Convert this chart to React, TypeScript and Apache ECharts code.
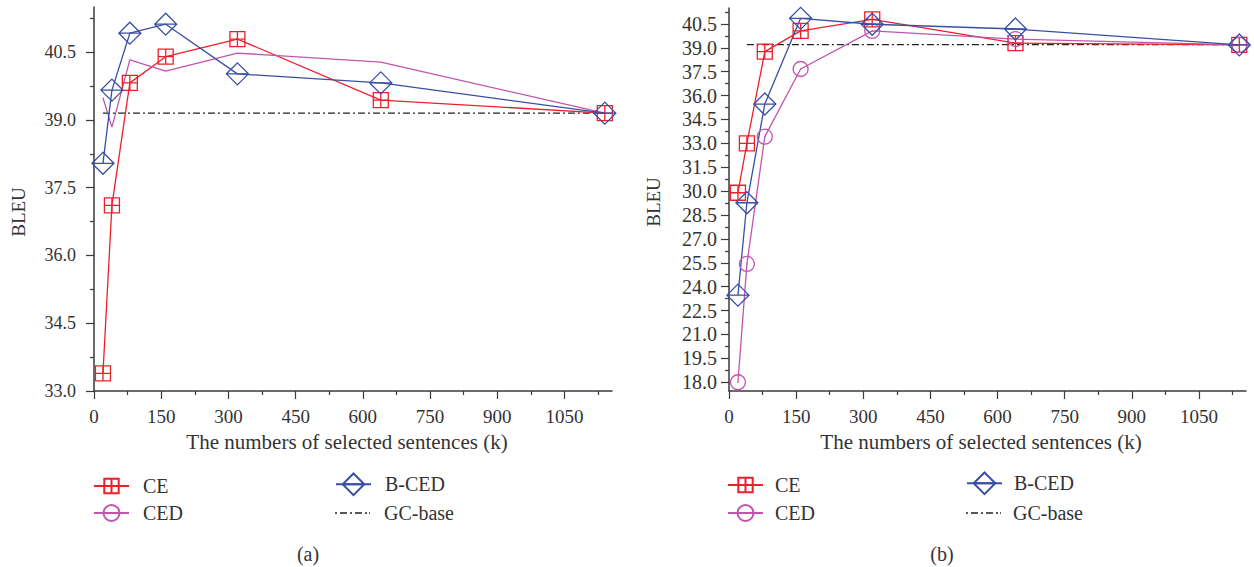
import React, { useEffect, useRef } from "react";
import * as echarts from "echarts";

// ---- data ----
const sentencesK = [20, 40, 80, 160, 320, 640, 1140];

const ceA = [33.39, 37.11, 39.82, 40.4, 40.79, 39.44, 39.15];
const cedA = [39.49, 38.84, 40.33, 40.08, 40.48, 40.28, 39.15];
const bcedA = [38.04, 39.66, 40.92, 41.12, 40.02, 39.82, 39.15];
const gcBaseXA = [20, 1140];
const gcBaseA = [39.15, 39.15];

const ceB = [29.9, 33.0, 38.76, 40.06, 40.79, 39.3, 39.18];
const cedB = [18.0, 25.43, 33.42, 37.67, 40.06, 39.55, 39.18];
const bcedB = [23.47, 29.27, 35.47, 40.85, 40.48, 40.18, 39.18];
const gcBaseXB = [40, 1140];
const gcBaseB = [39.2, 39.2];

const xTicks = [0, 150, 300, 450, 600, 750, 900, 1050];
const xMinorTicks = [75, 225, 375, 525, 675, 825, 975, 1125];
const yTicksA = [33.0, 34.5, 36.0, 37.5, 39.0, 40.5];
const yMinorTicksA = [33.75, 35.25, 36.75, 38.25, 39.75, 41.25];
const yTicksB = [18.0, 19.5, 21.0, 22.5, 24.0, 25.5, 27.0, 28.5, 30.0, 31.5, 33.0, 34.5, 36.0, 37.5, 39.0, 40.5];
const yMinorTicksB = [18.75, 20.25, 21.75, 23.25, 24.75, 26.25, 27.75, 29.25, 30.75, 32.25, 33.75, 35.25, 36.75, 38.25, 39.75, 41.25];

const xTitle = "The numbers of selected sentences (k)";
const yTitle = "BLEU";

// ---- styles ----
const FONT = "'Liberation Serif', 'DejaVu Serif', serif";
const AX = "#3a3a3a";
const TXT = "#333333";
const RED = "#ee1f2a";
const BLUE = "#3a4fa3";
const PURPLE = "#c254ae";
const BLACK = "#222222";

const SQ = "path://M0,0L10,0L10,10L0,10Z M5,0L5,10 M0,5L10,5";
const DIA = "path://M5,0L10,5L5,10L0,5Z M0,5L10,5";
const CIR = "path://M10,5A5,5,0,1,1,0,5A5,5,0,1,1,10,5Z M5,4.6L5,5.4";
const DASHDOT = "path://M0,0H2V1.3H0Z M5,0H12V1.3H5Z M15,0H17V1.3H15Z M20,0H27V1.3H20Z M30,0H32V1.3H30Z M34,0H35V1.3H34Z";

const pairs = (xs: number[], ys: number[]) => xs.map((x, i) => [x, ys[i]]);

function xAxes(grid: number, max: number, labelPad: number[]) {
  return [
    {
      type: "value",
      gridIndex: grid,
      min: 0,
      max,
      position: "bottom",
      axisLine: { show: true, onZero: false, lineStyle: { color: AX, width: 1.5 } },
      axisTick: { show: true, length: 8, customValues: xTicks, lineStyle: { color: AX, width: 1.2 } },
      axisLabel: {
        customValues: xTicks,
        margin: 16,
        fontSize: 19,
        color: TXT,
        fontFamily: FONT,
        formatter: (v: number) => String(v),
      },
      splitLine: { show: false },
      name: xTitle,
      nameLocation: "middle",
      nameGap: 40,
      nameTextStyle: { fontSize: 21, color: TXT, fontFamily: FONT, padding: labelPad },
    },
    {
      type: "value",
      gridIndex: grid,
      min: 0,
      max,
      position: "bottom",
      axisLine: { show: false, onZero: false },
      axisTick: { show: true, length: 4, customValues: xMinorTicks, lineStyle: { color: AX, width: 1.2 } },
      axisLabel: { show: false },
      splitLine: { show: false },
    },
  ];
}

function yAxes(
  grid: number,
  min: number,
  max: number,
  ticks: number[],
  minor: number[],
  fontSize: number,
  margin: number,
  namePad: number[]
) {
  return [
    {
      type: "value",
      gridIndex: grid,
      min,
      max,
      position: "left",
      axisLine: { show: true, onZero: false, lineStyle: { color: AX, width: 1.5 } },
      axisTick: { show: true, length: 8, customValues: ticks, lineStyle: { color: AX, width: 1.2 } },
      axisLabel: {
        customValues: ticks,
        margin,
        fontSize,
        color: TXT,
        fontFamily: FONT,
        formatter: (v: number) => v.toFixed(1),
      },
      splitLine: { show: false },
      name: yTitle,
      nameLocation: "middle",
      nameGap: 66,
      nameTextStyle: { fontSize: 19, color: TXT, fontFamily: FONT, padding: namePad },
    },
    {
      type: "value",
      gridIndex: grid,
      min,
      max,
      position: "left",
      axisLine: { show: false, onZero: false },
      axisTick: { show: true, length: 4, customValues: minor, lineStyle: { color: AX, width: 1.2 } },
      axisLabel: { show: false },
      splitLine: { show: false },
    },
  ];
}

function lineSeries(
  name: string,
  axis: number,
  data: number[][],
  color: string,
  symbol: string,
  size: number,
  showSymbol = true
) {
  return {
    name,
    type: "line",
    xAxisIndex: axis,
    yAxisIndex: axis,
    data,
    symbol,
    symbolSize: size,
    showSymbol,
    itemStyle: { color: "rgba(0,0,0,0)", borderColor: color, borderWidth: 1.3 },
    lineStyle: { color, width: 1.3 },
    emphasis: { disabled: true },
  };
}

function gcSeries(axis: number, data: number[][]) {
  return {
    name: "GC-base",
    type: "line",
    xAxisIndex: axis,
    yAxisIndex: axis,
    data,
    symbol: "none",
    itemStyle: { color: BLACK },
    lineStyle: { color: BLACK, width: 1.3, type: [7, 3, 2, 3] },
    emphasis: { disabled: true },
    z: 1,
  };
}

function legendItem(name: string, left: number, top: number, itemHeight: number, textGap: number, icon?: string) {
  return {
    left,
    top,
    padding: 0,
    orient: "horizontal",
    selectedMode: false,
    itemWidth: 35,
    itemHeight,
    data: [icon ? { name, icon, itemStyle: { color: BLACK } } : { name }],
    textStyle: { fontSize: 20, color: TXT, fontFamily: FONT, padding: [0, 0, 0, textGap] },
  };
}

export default function App() {
  const ref = useRef<HTMLDivElement>(null);

  useEffect(() => {
    if (!ref.current) return;
    const chart = echarts.init(ref.current, undefined, { renderer: "svg" });
    const option = {
      animation: false,
      backgroundColor: "#ffffff",
      textStyle: { fontFamily: FONT },
      grid: [
        { left: 94, top: 7, width: 518, height: 384 },
        { left: 729, top: 8, width: 517, height: 383 },
      ],
      xAxis: [...xAxes(0, 1156, [0, 12, 0, 0]), ...xAxes(1, 1155, [0, 13, 0, 0])],
      yAxis: [
        ...yAxes(0, 33, 41.5, yTicksA, yMinorTicksA, 18, 18, [0, 26, 0, 0]),
        ...yAxes(1, 17.45, 41.5, yTicksB, yMinorTicksB, 20, 12, [0, 5, 0, 0]),
      ],
      legend: [
        legendItem("CE", 93, 476, 18, 9),
        legendItem("CED", 93, 503, 20, 9),
        legendItem("B-CED", 335, 472.5, 27, 9),
        legendItem("GC-base", 335, 503, 14, 9, DASHDOT),
        legendItem("CE", 727, 475, 18, 7),
        legendItem("CED", 727, 503, 20, 7),
        legendItem("B-CED", 966, 471.5, 27, 7),
        legendItem("GC-base", 966, 503, 14, 7, DASHDOT),
      ],
      graphic: [
        {
          type: "text",
          x: 308,
          y: 554,
          style: { text: "(a)", fontSize: 20, fill: TXT, fontFamily: FONT, align: "center", verticalAlign: "middle" },
        },
        {
          type: "text",
          x: 942,
          y: 554,
          style: { text: "(b)", fontSize: 20, fill: TXT, fontFamily: FONT, align: "center", verticalAlign: "middle" },
        },
      ],
      series: [
        gcSeries(0, pairs(gcBaseXA, gcBaseA)),
        lineSeries("CE", 0, pairs(sentencesK, ceA), RED, SQ, 15),
        lineSeries("CED", 0, pairs(sentencesK, cedA), PURPLE, CIR, 15, false),
        lineSeries("B-CED", 0, pairs(sentencesK, bcedA), BLUE, DIA, 22),
        gcSeries(2, pairs(gcBaseXB, gcBaseB)),
        lineSeries("CE", 2, pairs(sentencesK, ceB), RED, SQ, 15),
        lineSeries("CED", 2, pairs(sentencesK, cedB), PURPLE, CIR, 15),
        lineSeries("B-CED", 2, pairs(sentencesK, bcedB), BLUE, DIA, 22),
      ],
    };
    chart.setOption(option as any);
    return () => chart.dispose();
  }, []);

  return (
    <div
      ref={ref}
      style={{ position: "absolute", left: 0, top: 0, width: 1254, height: 567 }}
    />
  );
}
